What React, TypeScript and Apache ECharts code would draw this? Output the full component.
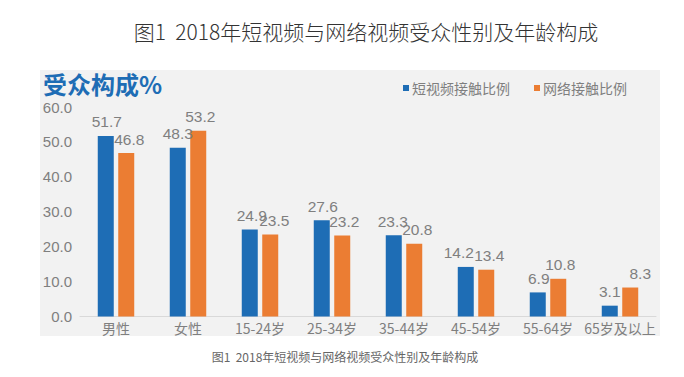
import React, { useEffect, useRef } from "react";
import * as echarts from "echarts";

const categories = ["男性", "女性", "15-24岁", "25-34岁", "35-44岁", "45-54岁", "55-64岁", "65岁及以上"];
const shortVideo = [51.7, 48.3, 24.9, 27.6, 23.3, 14.2, 6.9, 3.1];
const onlineVideo = [46.8, 53.2, 23.5, 23.2, 20.8, 13.4, 10.8, 8.3];
const seriesNames = ["短视频接触比例", "网络接触比例"];
const mainTitle = "图1  2018年短视频与网络视频受众性别及年龄构成";
const panelTitle = "受众构成%";
const caption = "图1  2018年短视频与网络视频受众性别及年龄构成";

// horizontal label nudges (style only)
const shortLabelDx = [1, 0, 2, 1, -1, -7, 1, 0];
const onlineLabelDx = [3, 2, 4, 2, 3, 3, 2, 10];

const CJK = "'Noto Sans CJK SC', 'Microsoft YaHei', sans-serif";
const NUM = "'Liberation Sans', Arial, sans-serif";
const GRAY = "#7f7f7f";
const BLUE = "#1e6db5";
const ORANGE = "#eb7d33";

export default function App() {
  const ref = useRef<HTMLDivElement>(null);
  useEffect(() => {
    if (!ref.current) return;
    const chart = echarts.init(ref.current, undefined, { renderer: "svg" });
    const labelCfg = {
      show: true,
      position: "top" as const,
      distance: 6,
      color: GRAY,
      fontSize: 15.5,
      fontFamily: NUM,
      formatter: (p: any) => Number(p.value).toFixed(1),
    };
    const withOffsets = (vals: number[], dx: number[]) =>
      vals.map((v, i) => ({ value: v, label: { offset: [dx[i], 0] } }));
    chart.setOption({
      animation: false,
      backgroundColor: "#ffffff",
      graphic: [
        {
          type: "rect",
          z: -10,
          silent: true,
          shape: { x: 40, y: 70, width: 620, height: 266 },
          style: { fill: "#f2f2f2" },
        },
        {
          type: "text",
          x: 366,
          y: 20,
          style: {
            text: mainTitle,
            fontSize: 21,
            fontWeight: 300,
            fill: "#333333",
            fontFamily: CJK,
            textAlign: "center",
          },
        },
        {
          type: "text",
          x: 43,
          y: 71,
          style: { text: panelTitle, fontSize: 24, fontWeight: "bold", fill: BLUE, fontFamily: CJK },
        },
        {
          type: "text",
          x: 345,
          y: 350,
          style: { text: caption, fontSize: 12, fill: "#666666", fontFamily: CJK, textAlign: "center" },
        },
      ],
      legend: {
        left: 403,
        top: 81,
        padding: 0,
        itemWidth: 6,
        itemHeight: 6,
        itemGap: 24,
        icon: "rect",
        textStyle: { color: GRAY, fontSize: 14, fontFamily: CJK, padding: [0, 0, 0, -2] },
        data: seriesNames,
      },
      grid: { left: 80, right: 28, top: 107, bottom: 60.5, containLabel: false },
      xAxis: {
        type: "category",
        data: categories,
        axisLine: { show: true, lineStyle: { color: "#d9d9d9", width: 1 } },
        axisTick: { show: false },
        axisLabel: { color: GRAY, fontSize: 14, fontFamily: CJK, margin: 4, interval: 0 },
      },
      yAxis: {
        type: "value",
        min: 0,
        max: 60,
        interval: 10,
        axisLine: { show: false },
        axisTick: { show: false },
        splitLine: { show: false },
        axisLabel: {
          color: GRAY,
          fontSize: 15,
          fontFamily: NUM,
          margin: 8,
          formatter: (v: number) => v.toFixed(1),
        },
      },
      series: [
        {
          name: seriesNames[0],
          type: "bar",
          data: withOffsets(shortVideo, shortLabelDx),
          barWidth: 16,
          barGap: "28%",
          itemStyle: { color: BLUE },
          label: labelCfg,
        },
        {
          name: seriesNames[1],
          type: "bar",
          data: withOffsets(onlineVideo, onlineLabelDx),
          barWidth: 16,
          barGap: "28%",
          itemStyle: { color: ORANGE },
          label: labelCfg,
        },
      ],
    });
    return () => chart.dispose();
  }, []);
  return <div ref={ref} style={{ position: "fixed", left: 0, top: 0, width: 684, height: 377 }} />;
}
